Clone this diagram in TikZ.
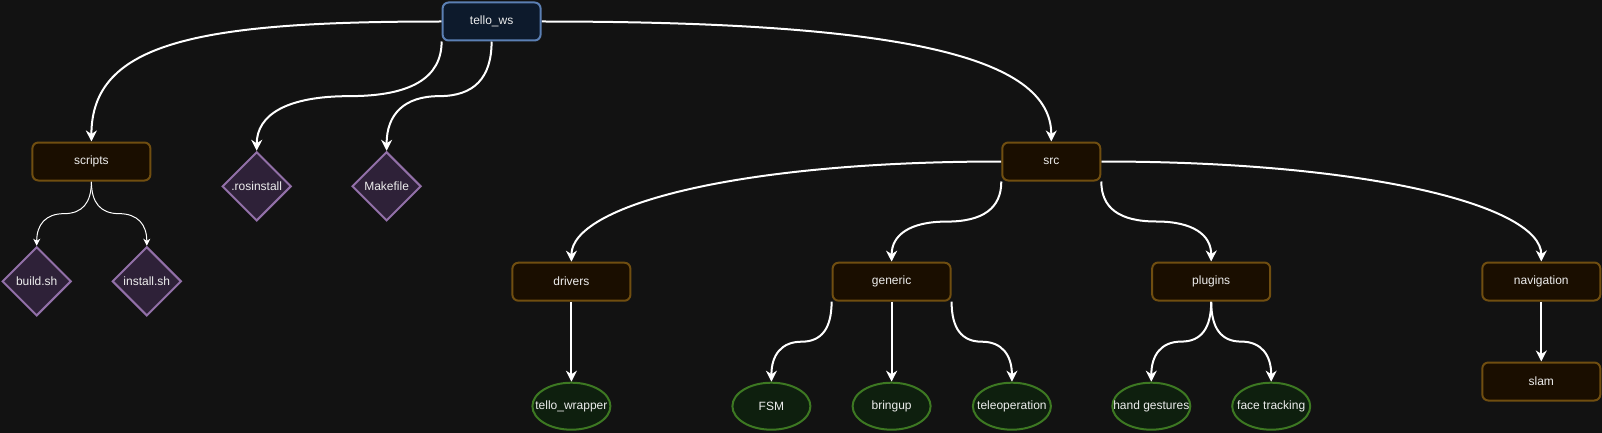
\documentclass[tikz,border=0pt]{standalone}
\usepackage{fontspec}
\setmainfont{Liberation Sans}
\usetikzlibrary{arrows.meta,calc,shapes.geometric}
\pgfdeclarelayer{back}
\pgfdeclarelayer{edges}
\pgfsetlayers{back,edges,main}
\definecolor{bgc}{HTML}{121212}
\definecolor{txt}{HTML}{EDEDED}
\definecolor{blF}{HTML}{0D1A2C}
\definecolor{blS}{HTML}{5B7FB3}
\definecolor{orF}{HTML}{1A0E00}
\definecolor{orS}{HTML}{704E10}
\definecolor{puF}{HTML}{2E2138}
\definecolor{puS}{HTML}{9270A8}
\definecolor{grF}{HTML}{0E1F0E}
\definecolor{grS}{HTML}{3D7822}
\begin{document}
\begin{tikzpicture}[x=1pt,y=-1pt,
  every node/.style={font=\fontsize{12pt}{14pt}\selectfont, text=txt},
  base/.style={draw, line width=2pt, inner sep=0pt},
  folder/.style={base, rectangle, rounded corners=6pt, minimum width=118pt, minimum height=38pt, draw=orS, fill=orF},
  narrow/.style={minimum width=98pt},
  rootbox/.style={folder, narrow, draw=blS, fill=blF},
  filebox/.style={base, diamond, aspect=1, minimum width=69pt, minimum height=69pt, draw=puS, fill=puF},
  pkg/.style={base, ellipse, minimum width=78pt, minimum height=47pt, draw=grS, fill=grF},
  link/.style={draw=white, line width=2pt, -{Stealth[length=11pt,width=11pt,inset=3.5pt]}},
  smalllink/.style={draw=white, line width=1pt, -{Stealth[length=7pt,width=7pt,inset=2pt]}},
  sedge/.style={to path={let \p1=(\tikztostart), \p2=(\tikztotarget) in
    .. controls (\x1,{(2*\y1+\y2)/3}) and ({(5*\x1+\x2)/6},{(\y1+\y2)/2})
    .. ({(\x1+\x2)/2},{(\y1+\y2)/2})
    .. controls ({(\x1+5*\x2)/6},{(\y1+\y2)/2}) and (\x2,{(\y1+2*\y2)/3})
    .. (\tikztotarget)}}
]
\useasboundingbox (0,0) rectangle (1602,433);
\begin{pgfonlayer}{back}
\fill[bgc] (0,0) rectangle (1602,433);
\end{pgfonlayer}

% nodes
\node[rootbox] (tello) at (491.6,21.5) {tello\_ws};
\node[folder] (scripts) at (91.4,161.5) {scripts};
\node[filebox, label={center:.rosinstall}] (ros) at (256.7,186.3) {};
\node[filebox, label={center:Makefile}] (make) at (386.6,186.3) {};
\node[filebox, label={center:build.sh}] (build) at (36.7,281.3) {};
\node[filebox, label={center:install.sh}] (install) at (146.8,281.3) {};
\node[folder, narrow] (src) at (1051.3,161.5) {src};
\node[folder] (drivers) at (571.4,281.7) {drivers};
\node[folder] (generic) at (891.6,281.7) {generic};
\node[folder] (plugins) at (1211.2,281.5) {plugins};
\node[folder] (nav) at (1541.3,281.5) {navigation};
\node[folder] (slam) at (1541.3,381.5) {slam};
\node[pkg, label={center:tello\_wrapper}] (wrapper) at (571.4,406.2) {};
\node[pkg, label={center:FSM}] (fsm) at (771.4,406.2) {};
\node[pkg, label={center:bringup}] (bringup) at (891.6,406.2) {};
\node[pkg, label={center:teleoperation}] (tele) at (1011.9,406.2) {};
\node[pkg, label={center:hand gestures}] (hand) at (1151.3,406.2) {};
\node[pkg, label={center:face tracking}] (face) at (1271.2,406.2) {};

% connectors
\begin{pgfonlayer}{edges}
\draw[link] (tello.west) .. controls ($(tello.west)+(-241,0)$) and ($(scripts.north)+(0,-100)$) .. (scripts.north);
\draw[link] (tello.south west) to[sedge] (ros.north);
\draw[link] (tello.south) to[sedge] (make.north);
\draw[link] (tello.east) .. controls ($(tello.east)+(360,0)$) and ($(src.north)+(0,-85)$) .. (src.north);
\draw[smalllink] (scripts.south) to[sedge] (build.north);
\draw[smalllink] (scripts.south) to[sedge] (install.north);
\draw[link] (src.west) .. controls ($(src.west)+(-270,0)$) and ($(drivers.north)+(0,-55)$) .. (drivers.north);
\draw[link] (src.south west) to[sedge] (generic.north);
\draw[link] (src.south east) to[sedge] (plugins.north);
\draw[link] (src.east) .. controls ($(src.east)+(270,0)$) and ($(nav.north)+(0,-55)$) .. (nav.north);
\draw[link] (drivers.south) -- (wrapper.north);
\draw[link] (generic.south west) to[sedge] (fsm.north);
\draw[link] (generic.south) -- (bringup.north);
\draw[link] (generic.south east) to[sedge] (tele.north);
\draw[link] (plugins.south) to[sedge] (hand.north);
\draw[link] (plugins.south) to[sedge] (face.north);
\draw[link] (nav.south) -- (slam.north);
\end{pgfonlayer}
\end{tikzpicture}
\end{document}
